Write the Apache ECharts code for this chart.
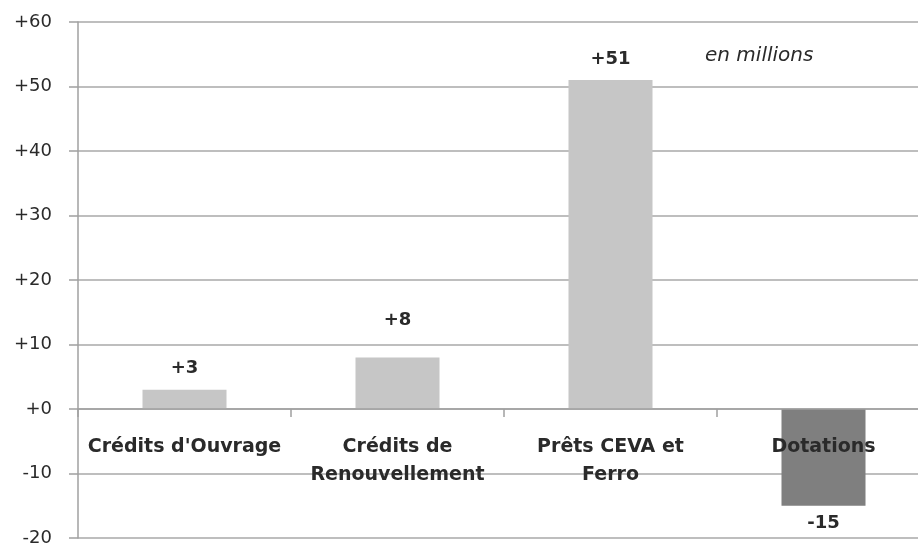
<!DOCTYPE html>
<html>
<head>
<meta charset="utf-8">
<script src="https://cdn.jsdelivr.net/npm/echarts@6/dist/echarts.min.js"></script>
<style>
  html, body { margin: 0; padding: 0; background: #fff; }
  #chart { width: 918px; height: 547px; }
</style>
</head>
<body>
<div id="chart"></div>
<script>
// catégories et valeurs (en millions)
var categories = ['Crédits d\'Ouvrage', 'Crédits de\nRenouvellement', 'Prêts CEVA et\nFerro', 'Dotations'];
var values = [3, 8, 51, -15];
var barColors = ['#c6c6c6', '#c6c6c6', '#c6c6c6', '#7f7f7f'];
var labelGaps = [12, 28, 12, 9]; // écart étiquette / barre, comme sur l'original
var yTicks = [-20, -10, 0, 10, 20, 30, 40, 50, 60];

var font = '"DejaVu Sans", sans-serif';

function signe(v) {
	return v >= 0 ? '+' + v : '' + v;
}

var myChart = echarts.init(document.getElementById('chart'));
var option = {
	    animation: false,
	    backgroundColor: '#fff',
	    title: {
	        text: 'en millions',
	        left: 705,
	        top: 46,
	        padding: 0,
	        textStyle: {
	            fontFamily: font,
	            fontStyle: 'italic',
	            fontWeight: 'normal',
	            fontSize: 20,
	            color: '#2a2a2a'
	        }
	    },
	    grid: {
	        left: 78,
	        right: -12,
	        top: 22,
	        bottom: 9,
	        outerBoundsMode: 'none'
	    },
	    xAxis: {
	        type: 'category',
	        data: categories,
	        z: 10,
	        position: 'bottom',
	        offset: -129, // l'axe des catégories passe par zéro
	        axisLine: { onZero: false, lineStyle: { color: '#a0a0a0', width: 1.5 } },
	        axisTick: { show: true, length: 8, lineStyle: { color: '#a0a0a0', width: 1.5 } },
	        axisLabel: {
	            margin: 24,
	            interval: 0,
	            fontFamily: font,
	            fontWeight: 'bold',
	            fontSize: 19,
	            lineHeight: 28,
	            color: '#2a2a2a'
	        }
	    },
	    yAxis: {
	        type: 'value',
	        min: yTicks[0],
	        max: yTicks[yTicks.length - 1],
	        interval: 10,
	        axisLine: { show: true, lineStyle: { color: '#a0a0a0', width: 1.5 } },
	        axisTick: { show: true, length: 9, lineStyle: { color: '#a0a0a0', width: 1.5 } },
	        axisLabel: {
	            margin: 26,
	            fontFamily: font,
	            fontSize: 18,
	            color: '#2a2a2a',
	            formatter: function (v) { return signe(v); }
	        },
	        splitLine: { show: true, lineStyle: { color: '#a8a8a8', width: 1.5 } }
	    },
	    series: [{
	        type: 'bar',
	        barWidth: 84,
	        data: values.map(function (v, i) {
	            return {
	                value: v,
	                itemStyle: { color: barColors[i] },
	                label: { position: v >= 0 ? 'top' : 'bottom', distance: labelGaps[i] }
	            };
	        }),
	        label: {
	            show: true,
	            fontFamily: font,
	            fontWeight: 'bold',
	            fontSize: 18,
	            color: '#2a2a2a',
	            formatter: function (p) { return signe(p.value); }
	        }
	    }]
	};

myChart.setOption(option);
</script>
</body>
</html>
